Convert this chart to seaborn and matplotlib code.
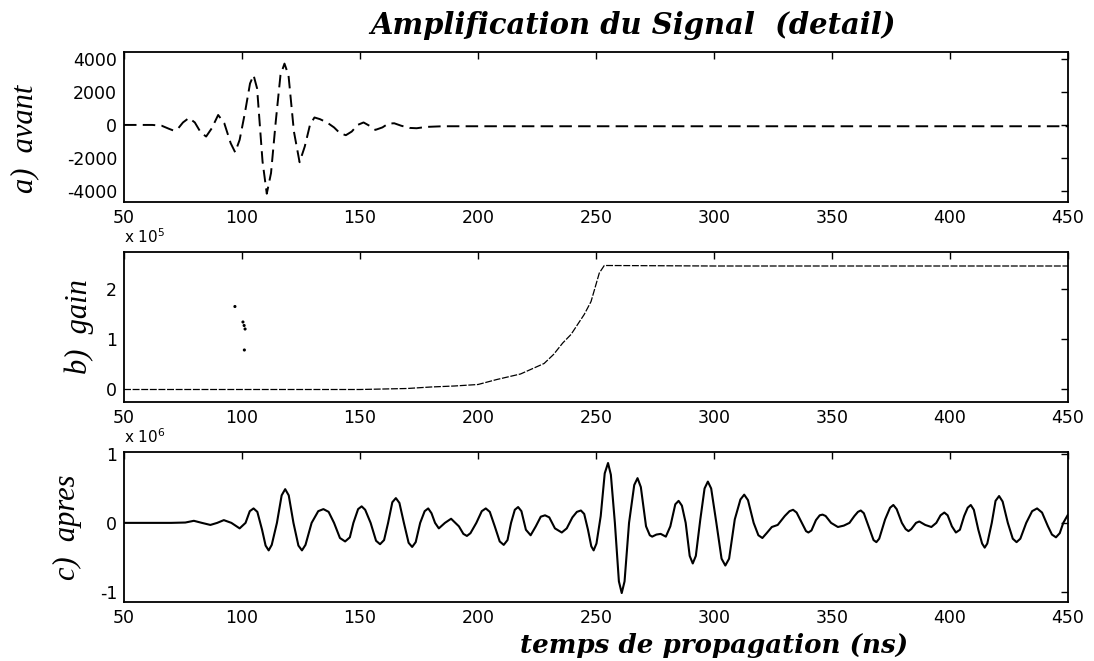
import numpy as np
import pandas as pd
import matplotlib
matplotlib.use("Agg")
import matplotlib.pyplot as plt
from matplotlib.ticker import FuncFormatter
import seaborn as sns

# ---------------- data ----------------
x_ticks = [50, 100, 150, 200, 250, 300, 350, 400, 450]

# a) avant : raw signal (dashed)
avant_t = [50, 62, 66, 69, 71, 73, 75, 77.5, 80, 82.5,
           84.8, 87.2, 89.9, 92.5, 95.2, 97.1, 99, 101.2, 103.4, 104.9,
           106.4, 108.7, 110.5, 112.3, 114.3, 116.3, 118, 119.7, 122, 124.4,
           126.6, 128.8, 130.7, 133, 136, 139, 141.5, 144, 146.5, 149,
           151.5, 154, 156.5, 159.5, 162, 164.5, 167.5, 171, 174, 178,
           185, 200, 250, 300, 350, 400, 450]
avant_v = [0, 0, -50, -230, -340, -200, 150, 420, 150, -450,
           -700, -200, 600, 100, -1100, -1650, -900, 700, 2500, 3000,
           2200, -2200, -4150, -2900, 200, 3000, 3700, 3000, -400, -2250,
           -1300, 0, 450, 350, 150, -150, -500, -620, -400, 0,
           150, -50, -300, -150, 80, 100, -50, -180, -200, -120,
           -80, -80, -80, -80, -80, -80, -80]
avant_yticks = [-4000, -2000, 0, 2000, 4000]

# b) gain (units of 1e5)
gain_t = [50, 100, 150, 170, 180, 190, 200, 208, 218, 228,
          232, 235.9, 239.4, 245, 247.9, 251.4, 253.5, 300, 350, 400, 450]
gain_v = [0, 0, 0, 0.02, 0.05, 0.07, 0.10, 0.20, 0.31, 0.52,
          0.70, 0.93, 1.10, 1.50, 1.76, 2.33, 2.48, 2.47, 2.47, 2.47, 2.47]
gain_spur_t = [97.0, 100.4, 100.9, 101.3, 101.0]
gain_spur_v = [1.66, 1.35, 1.28, 1.21, 0.79]
gain_yticks = [0, 1, 2]
gain_scale = 1e5

# c) apres : amplified signal (units of 1e6)
apres_t = [50, 60, 70, 76, 79.6, 83, 86.6, 89.5, 92.3, 95.5,
           99, 101.5, 103.3, 104.9, 106.5, 108.5, 110, 111.3, 112.6, 114.8,
           116.8, 118.3, 119.8, 121.8, 123.9, 125.4, 126.9, 129.5, 132.3, 134.5,
           136.7, 139, 141.5, 143.7, 145.7, 147.2, 149.2, 150.7, 152.2, 154.5,
           156.8, 158.5, 160.2, 161.9, 163.7, 165.2, 166.7, 168.6, 170.6, 172.1,
           173.6, 175.5, 177.4, 178.9, 180.3, 181.8, 183.4, 186, 188.6, 191.9,
           193.8, 195.3, 196.8, 199.3, 201.6, 203.3, 205, 207.1, 209.2, 210.9,
           212.5, 214, 215.6, 217.0, 218.4, 220.3, 222.3, 224.5, 226.6, 228.4,
           230.2, 232.6, 235.5, 237.6, 240, 241.9, 243.6, 245, 246.6, 248,
           249, 250.2, 252.0, 253.7, 255.1, 256.3, 258, 259.7, 260.9, 262.1,
           264, 266.2, 267.6, 269, 271.2, 272.8, 273.8, 275.6, 277.4, 279.6,
           281.5, 283.6, 285, 286.4, 288, 289.7, 291, 292.3, 294.2, 296,
           297.4, 298.8, 301, 303.2, 304.8, 306.4, 308.8, 311.2, 312.8, 314.4,
           316.8, 318.8, 320.5, 322.3, 324.5, 327, 330, 332, 333.5, 335,
           337.2, 339, 340, 341.3, 343.2, 344.8, 346, 347.3, 349.6, 352.5,
           355, 357.4, 359.5, 361, 362.2, 363.5, 366, 367.6, 368.8, 370,
           372.5, 374.6, 376, 377.4, 379.6, 381.2, 382.4, 383.6, 385.6, 387,
           389.5, 392.1, 394.2, 396, 397.6, 399, 400.8, 402.5, 404.2, 406,
           407.5, 408.8, 410.1, 412, 413.6, 414.7, 415.8, 417.7, 419.3, 420.8,
           422.3, 424.5, 426.6, 428.2, 429.8, 432.3, 434.8, 436.9, 439, 441.5,
           443.2, 444.9, 446.5, 448, 450]
apres_v = [0, 0, 0, 0.005, 0.03, 0.0, -0.03, 0.0, 0.04, 0.0,
           -0.08, 0.0, 0.17, 0.21, 0.16, -0.1, -0.33, -0.40, -0.32, 0.0,
           0.4, 0.49, 0.4, 0.0, -0.33, -0.40, -0.32, 0.0, 0.17, 0.20,
           0.16, 0.0, -0.22, -0.27, -0.21, 0.0, 0.2, 0.24, 0.19, 0.0,
           -0.26, -0.31, -0.25, 0.0, 0.30, 0.36, 0.29, 0.0, -0.29, -0.35,
           -0.28, 0.0, 0.17, 0.21, 0.14, 0.0, -0.08, 0.0, 0.06, -0.05,
           -0.16, -0.19, -0.15, 0.0, 0.17, 0.21, 0.16, -0.05, -0.27, -0.32,
           -0.25, 0.0, 0.19, 0.23, 0.17, -0.1, -0.18, -0.05, 0.09, 0.11,
           0.08, -0.08, -0.14, -0.08, 0.08, 0.16, 0.18, 0.13, -0.1, -0.34,
           -0.40, -0.3, 0.1, 0.72, 0.87, 0.7, 0.0, -0.85, -1.02, -0.85,
           0.0, 0.55, 0.65, 0.52, -0.05, -0.18, -0.20, -0.17, -0.16, -0.20,
           -0.05, 0.27, 0.32, 0.25, 0.0, -0.48, -0.59, -0.48, 0.05, 0.5,
           0.60, 0.5, 0.0, -0.52, -0.62, -0.52, 0.05, 0.34, 0.41, 0.33,
           0.0, -0.18, -0.22, -0.15, -0.06, -0.03, 0.1, 0.17, 0.19, 0.15,
           0.0, -0.12, -0.14, -0.11, 0.04, 0.11, 0.12, 0.1, 0.0, -0.06,
           -0.04, 0.0, 0.1, 0.16, 0.18, 0.14, -0.1, -0.25, -0.28, -0.23,
           0.05, 0.22, 0.26, 0.2, 0.0, -0.09, -0.12, -0.09, 0.0, 0.02,
           -0.03, -0.06, 0.0, 0.11, 0.15, 0.11, -0.05, -0.14, -0.1, 0.1,
           0.22, 0.26, 0.19, -0.1, -0.3, -0.36, -0.3, 0.0, 0.32, 0.39,
           0.31, 0.0, -0.23, -0.28, -0.23, 0.0, 0.17, 0.21, 0.15, -0.05,
           -0.17, -0.21, -0.15, 0.0, 0.12]
apres_yticks = [-1, 0, 1]
apres_scale = 1e6

title_text = "Amplification du Signal  (detail)"
xlabel_text = "temps de propagation (ns)"
ylabels = ["a)  avant", "b)  gain", "c)  apres"]

assert len(avant_t) == len(avant_v)
assert len(gain_t) == len(gain_v)
assert len(apres_t) == len(apres_v)

# ---------------- style ----------------
sns.set_theme(style="white")
plt.rcParams.update({
    "font.family": ["DejaVu Sans"],
    "axes.unicode_minus": False,
    "lines.scale_dashes": False,
    "mathtext.default": "regular",
    "axes.edgecolor": "black",
    "axes.linewidth": 1.3,
    "text.color": "black",
    "axes.labelcolor": "black",
    "xtick.color": "black",
    "ytick.color": "black",
})

W, H = 1094, 661
fig = plt.figure(figsize=(W / 100, H / 100), dpi=100)
fig.patch.set_facecolor("white")


def make_axes(top_px, bottom_px):
    return fig.add_axes([124 / W, 1 - bottom_px / H, 944 / W, (bottom_px - top_px) / H])


ax1 = make_axes(52, 202)
ax2 = make_axes(252, 402)
ax3 = make_axes(452, 602)

df_a = pd.DataFrame({"t": avant_t, "v": avant_v})
df_g = pd.DataFrame({"t": gain_t, "v": np.array(gain_v) * gain_scale})
df_gs = pd.DataFrame({"t": gain_spur_t, "v": np.array(gain_spur_v) * gain_scale})
df_c = pd.DataFrame({"t": apres_t, "v": np.array(apres_v) * apres_scale})

sns.lineplot(data=df_a, x="t", y="v", ax=ax1, color="black", lw=1.4,
             estimator=None, sort=False)
ax1.lines[-1].set_dashes((9, 4.5))

sns.lineplot(data=df_g, x="t", y="v", ax=ax2, color="black", lw=0.9,
             estimator=None, sort=False)
ax2.lines[-1].set_dashes((5, 1.2))
sns.scatterplot(data=df_gs, x="t", y="v", ax=ax2, color="black", s=5,
                marker="o", edgecolor="none")

sns.lineplot(data=df_c, x="t", y="v", ax=ax3, color="black", lw=1.5,
             estimator=None, sort=False)
ax3.lines[-1].set_solid_joinstyle("round")

for ax in (ax1, ax2, ax3):
    ax.set_facecolor("white")
    ax.set_xlim(50, 450)
    ax.set_xticks(x_ticks)
    ax.tick_params(direction="in", top=True, right=True, length=5, width=1,
                   labelsize=12.5, pad=5, colors="black")
    ax.set_xlabel("")
    for s in ax.spines.values():
        s.set_visible(True)
        s.set_color("black")
        s.set_linewidth(1.3)
    ax.grid(False)

ax1.set_ylim(-4650, 4400)
ax1.set_yticks(avant_yticks)
ax1.yaxis.set_major_formatter(FuncFormatter(lambda v, p: f"{int(round(v))}"))

ax2.set_ylim(-0.25 * gain_scale, 2.75 * gain_scale)
ax2.set_yticks([v * gain_scale for v in gain_yticks])
ax2.yaxis.set_major_formatter(FuncFormatter(lambda v, p: f"{int(round(v / gain_scale))}"))

ax3.set_ylim(-1.15 * apres_scale, 1.03 * apres_scale)
ax3.set_yticks([v * apres_scale for v in apres_yticks])
ax3.yaxis.set_major_formatter(FuncFormatter(lambda v, p: f"{int(round(v / apres_scale))}"))

ylab_font = dict(family=["Liberation Serif", "DejaVu Serif"], style="italic",
                 size=22, color="black")
# label anchor = right edge of the rotated text, in axes fraction
label_pos = [(-0.09, 0.42), (-0.032, 0.5), (-0.045, 0.5)]
for ax, lab, (lx, ly) in zip((ax1, ax2, ax3), ylabels, label_pos):
    ax.set_ylabel(lab, **ylab_font)
    ax.yaxis.set_label_coords(lx, ly)

fig.text(124 / W, 1 - 237 / H, r"x 10$^5$", fontsize=11, va="center", ha="left",
         color="black")
fig.text(124 / W, 1 - 437 / H, r"x 10$^6$", fontsize=11, va="center", ha="left",
         color="black")

title = fig.text(633 / W, 1 - 25 / H, title_text, ha="center", va="center",
                 family=["DejaVu Serif"], style="italic", weight="bold", size=20,
                 color="black")
xlab = fig.text(714 / W, 1 - 645 / H, xlabel_text, ha="center", va="center",
                family=["DejaVu Serif"], style="italic", weight="bold", size=18,
                color="black")


def fit_width(t, target_px):
    fig.canvas.draw()
    r = fig.canvas.get_renderer()
    w = t.get_window_extent(r).width
    t.set_fontsize(t.get_fontsize() * target_px / w)


fit_width(title, 525)
fit_width(xlab, 389)

fig.savefig("out.png", dpi=100, facecolor="white")
